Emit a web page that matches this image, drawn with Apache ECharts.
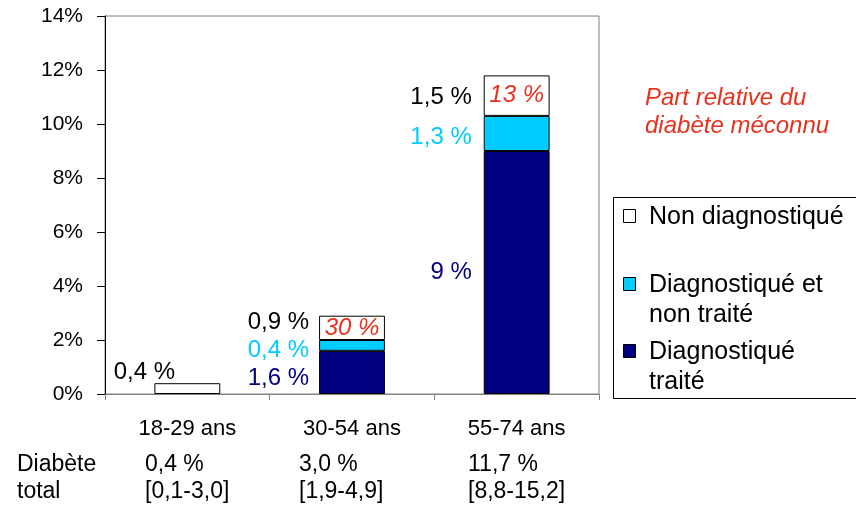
<!DOCTYPE html>
<html><head><meta charset="utf-8">
<script src="https://cdn.jsdelivr.net/npm/echarts@6/dist/echarts.min.js"></script>
<style>html,body{margin:0;padding:0;background:#fff}#c{width:856px;height:506px}</style>
</head><body><div id="c"></div>
<script>
// ---- data ----
const categories = ['18-29 ans', '30-54 ans', '55-74 ans'];
const diagTraite = [null, 1.6, 9];
const diagNonTraite = [null, 0.4, 1.3];
const nonDiag = [0.4, 0.9, 1.5];
const partMeconnu = [null, '30 %', '13 %'];
const yTicks = [0, 2, 4, 6, 8, 10, 12, 14];
const totalDiabete = ['0,4 %', '3,0 %', '11,7 %'];
const intervalles = ['[0,1-3,0]', '[1,9-4,9]', '[8,8-15,2]'];
const seriesNames = ['Diagnostiqué traité', 'Diagnostiqué et non traité', 'Non diagnostiqué'];
const legendLines = [['Non diagnostiqué'], ['Diagnostiqué et', 'non traité'], ['Diagnostiqué', 'traité']];
const noteLines = ['Part relative du', 'diabète méconnu'];
const tableRowTitles = ['Diabète', 'total'];

// ---- styles ----
const FONT = '"Liberation Sans", Arial, sans-serif';
const C_DARK = '#000080', C_CYAN = '#00CCFF', C_WHITE = '#FFFFFF', C_RED = '#E8321E';
const fmt = v => (v == null ? '' : String(v).replace('.', ',') + ' %');

const darkOff = [[0, 0], [0, 6], [-2, 0]];
const cyanOff = [[0, 0], [0, 5], [-2, 4]];
const whiteLabel = [
  { position: 'top', distance: 0, offset: [-43, 1] },
  { position: 'left', distance: 10, offset: [0, -5] },
  { position: 'left', distance: 12, offset: [0, 2] }
];

const stackTop = i => (diagTraite[i] || 0) + (diagNonTraite[i] || 0);

const chart = echarts.init(document.getElementById('c'), null, { renderer: 'canvas' });

const legendColors = [C_WHITE, C_CYAN, C_DARK];
const legendY = [217, 285, 352];
const legendGraphics = [{
  type: 'rect', shape: { x: 613.5, y: 197.5, width: 270, height: 201 },
  style: { fill: '#fff', stroke: '#000', lineWidth: 1 }, z: 10
}];
legendLines.forEach((lines, k) => {
  legendGraphics.push({
    type: 'rect', shape: { x: 623.5, y: legendY[k] - 7.5, width: 12, height: 13 },
    style: { fill: legendColors[k], stroke: '#000', lineWidth: 1 }, z: 11
  });
  lines.forEach((t, j) => {
    legendGraphics.push({
      type: 'text', x: 649, y: legendY[k] + j * 30, z: 11,
      style: { text: t, font: '25px ' + FONT, fill: '#000', verticalAlign: 'middle', align: 'left' }
    });
  });
});

const noteGraphics = noteLines.map((t, j) => ({
  type: 'text', x: 645, y: 98 + j * 28,
  style: { text: t, font: 'italic 24px ' + FONT, fill: C_RED, verticalAlign: 'middle', align: 'left' }
}));

const colX = [145, 299, 468];
const tableGraphics = [];
tableRowTitles.forEach((t, j) => {
  tableGraphics.push({
    type: 'text', x: 17, y: 465 + j * 27,
    style: { text: t, font: '23px ' + FONT, fill: '#000', verticalAlign: 'middle', align: 'left' }
  });
});
categories.forEach((c, i) => {
  tableGraphics.push({
    type: 'text', x: colX[i], y: 465,
    style: { text: totalDiabete[i], font: '23px ' + FONT, fill: '#000', verticalAlign: 'middle', align: 'left' }
  });
  tableGraphics.push({
    type: 'text', x: colX[i], y: 492,
    style: { text: intervalles[i], font: '23px ' + FONT, fill: '#000', verticalAlign: 'middle', align: 'left' }
  });
});

const barItem = { borderColor: '#000', borderWidth: 1 };

chart.setOption({
  animation: false,
  backgroundColor: '#fff',
  textStyle: { fontFamily: FONT },
  grid: { left: 105, right: 257, top: 16, bottom: 112, show: true, borderColor: '#808080', borderWidth: 1, backgroundColor: 'transparent' },
  xAxis: {
    type: 'category', data: categories,
    axisLine: { lineStyle: { color: '#808080', width: 1 } },
    axisTick: { show: true, length: 6, lineStyle: { color: '#808080' } },
    axisLabel: { color: '#000', fontSize: 22, margin: 24, fontFamily: FONT }
  },
  yAxis: {
    type: 'value', min: yTicks[0], max: yTicks[yTicks.length - 1], interval: yTicks[1] - yTicks[0],
    axisLine: { show: true, lineStyle: { color: '#000', width: 1 } },
    axisTick: { show: true, length: 8, lineStyle: { color: '#000' } },
    splitLine: { show: false },
    axisLabel: { color: '#000', fontSize: 21, margin: 22, fontFamily: FONT, formatter: '{value}%' }
  },
  series: [
    {
      name: seriesNames[0], type: 'bar', stack: 'total', barWidth: '40%',
      itemStyle: Object.assign({ color: C_DARK }, barItem),
      label: { show: true, position: 'left', distance: 10, color: C_DARK, fontSize: 24, fontFamily: FONT, formatter: p => fmt(p.value) },
      data: diagTraite.map((v, i) => ({ value: v, label: { offset: darkOff[i] } }))
    },
    {
      name: seriesNames[1], type: 'bar', stack: 'total', barWidth: '40%',
      itemStyle: Object.assign({ color: C_CYAN }, barItem),
      label: { show: true, position: 'left', distance: 10, color: C_CYAN, fontSize: 24, fontFamily: FONT, formatter: p => fmt(p.value) },
      data: diagNonTraite.map((v, i) => ({ value: v, label: { offset: cyanOff[i] } }))
    },
    {
      name: seriesNames[2], type: 'bar', stack: 'total', barWidth: '40%',
      itemStyle: Object.assign({ color: C_WHITE }, barItem),
      label: { show: true, color: '#000', fontSize: 24, fontFamily: FONT, formatter: p => fmt(p.value) },
      data: nonDiag.map((v, i) => ({ value: v, label: whiteLabel[i] }))
    },
    {
      name: 'Part relative du diabète méconnu', type: 'scatter', symbolSize: 0, silent: true, z: 5,
      itemStyle: { opacity: 1 },
      label: { show: true, position: 'inside', color: C_RED, opacity: 1, fontSize: 24, fontStyle: 'italic', fontFamily: FONT,
        formatter: p => partMeconnu[p.dataIndex] || '' },
      data: partMeconnu.map((t, i) => (t ? [i, stackTop(i) + nonDiag[i] / 2] : null))
    }
  ],
  graphic: [].concat(noteGraphics, legendGraphics, tableGraphics)
});
</script>
</body></html>
